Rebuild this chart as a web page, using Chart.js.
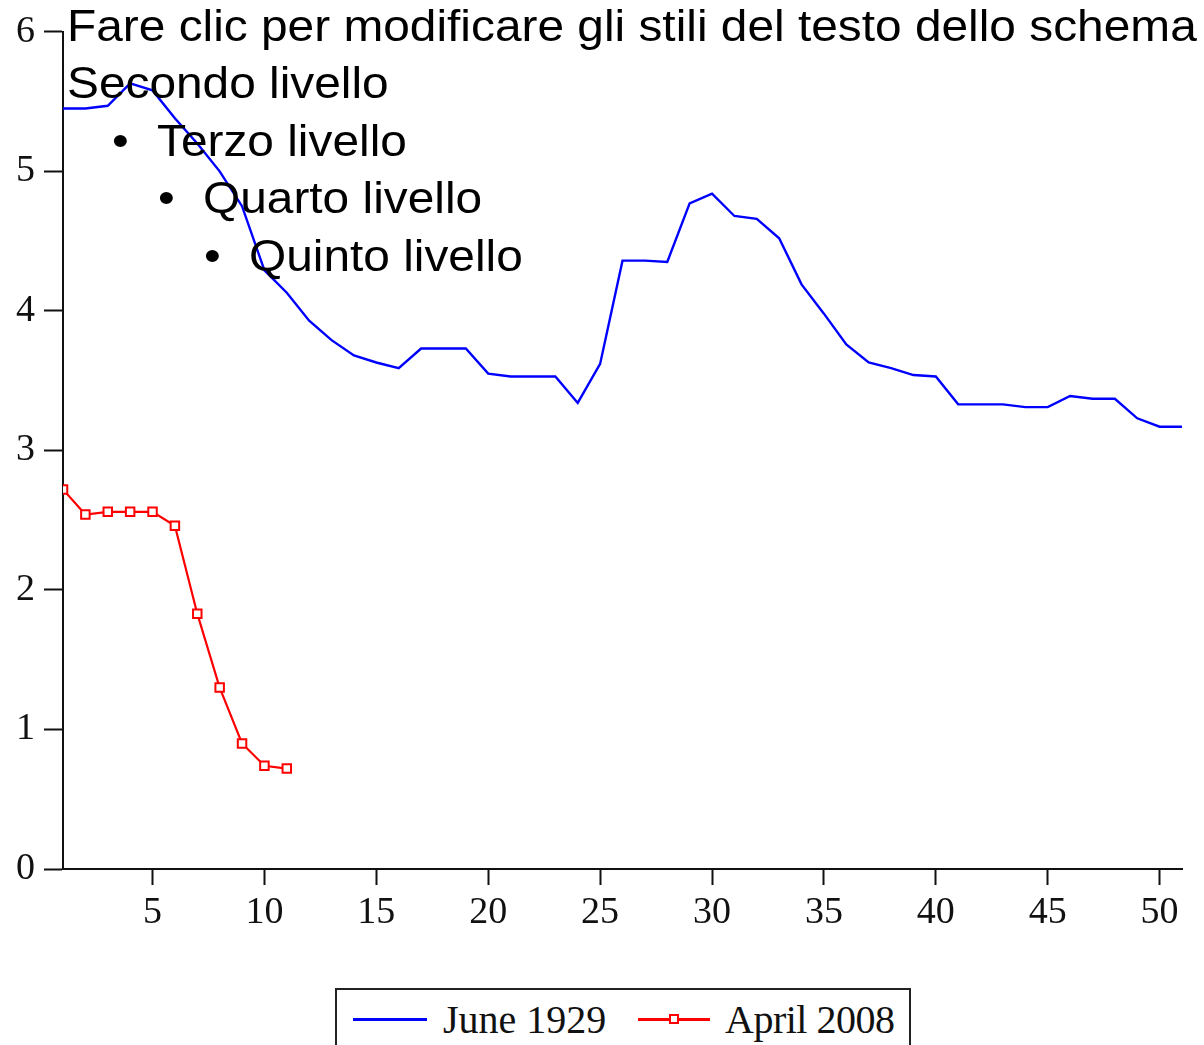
<!DOCTYPE html>
<html>
<head>
<meta charset="utf-8">
<script src="https://cdn.jsdelivr.net/npm/chart.js@4"></script>
<style>
  html, body { margin: 0; padding: 0; background: #fff; }
  #wrap { position: relative; width: 1204px; height: 1045px; overflow: hidden; }
  #chart { position: absolute; left: 0; top: 0; }
  .ov { position: absolute; font-family: "Liberation Sans", Arial, sans-serif; font-size: 44px;
        line-height: 58px; color: #000; white-space: nowrap; pointer-events: none;
        transform: scaleX(1.087); transform-origin: 0 0; }
  #legend { position: absolute; left: 335px; top: 988px; width: 576px; height: 80px;
            border: 2px solid #222; box-sizing: border-box; background: #fff; }
  .lg-line { position: absolute; height: 3px; }
  .lg-text { position: absolute; font-family: "Liberation Serif", "Times New Roman", serif;
             font-size: 40px; line-height: 40px; color: #111; white-space: nowrap; }
  .lg-mark { position: absolute; width: 6px; height: 6px; border: 2px solid #ff0000; background: #fff; }
</style>
</head>
<body>
<div id="wrap">
  <canvas id="chart" width="1204" height="1045"></canvas>

  <div id="legend">
    <div class="lg-line" style="left:16px; top:28px; width:74px; background:#0000ff;"></div>
    <div class="lg-text" style="left:106px; top:10px;">June 1929</div>
    <div class="lg-line" style="left:301px; top:28px; width:72px; background:#ff0000;"></div>
    <div class="lg-mark" style="left:332px; top:24px;"></div>
    <div class="lg-text" style="left:388px; top:10px; letter-spacing:-0.5px;">April 2008</div>
  </div>

  <div class="ov" style="left:67px; top:-3px;">Fare clic per modificare gli stili del testo dello schema</div>
  <div class="ov" style="left:67px; top:54px;">Secondo livello</div>
  <div class="ov" style="left:112px; top:112px;">•</div>
  <div class="ov" style="left:157px; top:112px;">Terzo livello</div>
  <div class="ov" style="left:158px; top:169px;">•</div>
  <div class="ov" style="left:203px; top:169px;">Quarto livello</div>
  <div class="ov" style="left:204px; top:227px;">•</div>
  <div class="ov" style="left:249px; top:227px;">Quinto livello</div>
</div>

<script>
// x positions (months after the peak)
const days1929 = [1, 2, 3, 4, 5, 6, 7, 8, 9, 10,
  11, 12, 13, 14, 15, 16, 17, 18, 19, 20,
  21, 22, 23, 24, 25, 26, 27, 28, 29, 30,
  31, 32, 33, 34, 35, 36, 37, 38, 39, 40,
  41, 42, 43, 44, 45, 46, 47, 48, 49, 50, 51];
const days2008 = [1, 2, 3, 4, 5, 6, 7, 8, 9, 10, 11];

// series values
const june1929 = [5.45, 5.45, 5.47, 5.63, 5.58, 5.38, 5.20, 5.00, 4.75, 4.29,
  4.13, 3.93, 3.79, 3.68, 3.63, 3.59, 3.73, 3.73, 3.73, 3.55,
  3.53, 3.53, 3.53, 3.34, 3.62, 4.36, 4.36, 4.35, 4.77, 4.84,
  4.68, 4.66, 4.52, 4.19, 3.98, 3.76, 3.63, 3.59, 3.54, 3.53,
  3.33, 3.33, 3.33, 3.31, 3.31, 3.39, 3.37, 3.37, 3.23, 3.17, 3.17];
const april2008 = [2.72, 2.54, 2.56, 2.56, 2.56, 2.46, 1.83, 1.30, 0.90, 0.74, 0.72];

const xTicks = [5, 10, 15, 20, 25, 30, 35, 40, 45, 50];
const seriesNames = ['June 1929', 'April 2008'];

const toPoints = (xs, ys) => xs.map((x, i) => ({ x: x, y: ys[i] }));

const tickFont = { family: '"Liberation Serif", "Times New Roman", serif', size: 38 };

new Chart(document.getElementById('chart'), {
  type: 'line',
  data: {
    datasets: [
      {
        label: seriesNames[0],
        data: toPoints(days1929, june1929),
        borderColor: '#0000ff',
        borderWidth: 2.4,
        pointRadius: 0,
        tension: 0,
        clip: 0
      },
      {
        label: seriesNames[1],
        data: toPoints(days2008, april2008),
        borderColor: '#ff0000',
        borderWidth: 2.2,
        pointStyle: 'rect',
        pointRadius: 6,
        pointBorderWidth: 2,
        pointBorderColor: '#ff0000',
        pointBackgroundColor: '#ffffff',
        tension: 0,
        clip: 0
      }
    ]
  },
  options: {
    responsive: false,
    animation: false,
    layout: { padding: { left: 0, top: 31, right: 22, bottom: 106 } },
    plugins: {
      legend: { display: false },
      tooltip: { enabled: false }
    },
    scales: {
      x: {
        type: 'linear',
        min: 1,
        max: 51,
        afterBuildTicks: (scale) => { scale.ticks = xTicks.map(v => ({ value: v })); },
        afterFit: (scale) => { scale.height = 70; },
        border: { display: true, color: '#111', width: 2 },
        grid: { display: true, drawOnChartArea: false, drawTicks: true, tickLength: 16, tickColor: '#111', tickWidth: 2 },
        ticks: { color: '#111', font: tickFont, padding: 5, maxRotation: 0, autoSkip: false }
      },
      y: {
        min: 0,
        max: 6,
        afterFit: (scale) => { scale.width = 63; },
        border: { display: true, color: '#111', width: 2 },
        grid: { display: true, drawOnChartArea: false, drawTicks: true, tickLength: 19, tickColor: '#111', tickWidth: 2 },
        ticks: { color: '#111', font: tickFont, padding: 9, stepSize: 1 }
      }
    }
  }
});
</script>
</body>
</html>
